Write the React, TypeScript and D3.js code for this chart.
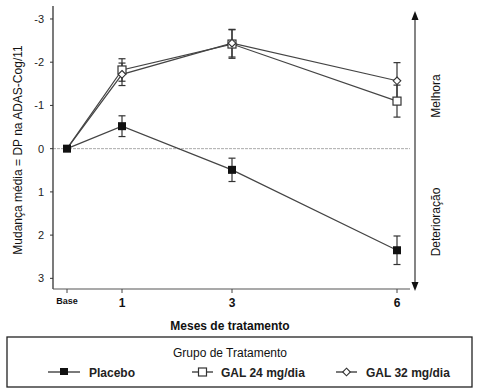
import * as React from 'react';
import * as d3 from 'd3';

const months = [0, 1, 3, 6];
const monthLabels = ['Base', '1', '3', '6'];
const yTicks = [-3, -2, -1, 0, 1, 2, 3];

const placebo = [0, -0.52, 0.49, 2.35];
const placeboErr = [0, 0.24, 0.27, 0.33];
const gal24 = [0, -1.82, -2.42, -1.1];
const gal24Err = [0, 0.26, 0.33, 0.37];
const gal32 = [0, -1.72, -2.44, -1.57];
const gal32Err = [0, 0.26, 0.32, 0.42];

const seriesNames = ['Placebo', 'GAL 24 mg/dia', 'GAL 32 mg/dia'];

const font = 'Liberation Sans, Arial, sans-serif';

export default function App() {
  const x = d3.scaleLinear().domain([0, 6]).range([67, 397]);
  const y = d3.scaleLinear().domain([-3.3, 3.2]).range([6, 287]);
  const line = d3.line<number>().x((_, i) => x(months[i])).y(d => y(d));

  const series = [
    {name: seriesNames[0], vals: placebo, err: placeboErr, marker: 'fsq'},
    {name: seriesNames[1], vals: gal24, err: gal24Err, marker: 'osq'},
    {name: seriesNames[2], vals: gal32, err: gal32Err, marker: 'dia'},
  ];

  const marker = (m: string, cx: number, cy: number, key: string) => {
    if (m === 'fsq') return <rect key={key} x={cx - 4} y={cy - 4} width={8} height={8} fill="#111" />;
    if (m === 'osq') return <rect key={key} x={cx - 4} y={cy - 4} width={8} height={8} fill="#fff" stroke="#333" strokeWidth={1.2} />;
    return <path key={key} d={`M${cx},${cy - 3.8}L${cx + 3.8},${cy}L${cx},${cy + 3.8}L${cx - 3.8},${cy}Z`} fill="#fff" stroke="#333" strokeWidth={1.1} />;
  };

  return (
    <svg width={477} height={391} style={{position: 'absolute', left: 0, top: 0, background: '#fff'}} fontFamily={font}>
      {/* zero reference line */}
      <line x1={53} x2={410} y1={y(0)} y2={y(0)} stroke="#aaa" strokeWidth={1} strokeDasharray="3,1" />
      {/* axes */}
      <line x1={53} x2={53} y1={6} y2={289} stroke="#333" strokeWidth={1.3} />
      <line x1={53} x2={410} y1={289} y2={289} stroke="#555" strokeWidth={1.2} />
      {yTicks.map(t => (
        <g key={t}>
          <line x1={50} x2={53} y1={y(t)} y2={y(t)} stroke="#333" />
          <text x={44} y={y(t) + 4} textAnchor="end" fontSize={11} fill="#222">{t}</text>
        </g>
      ))}
      {months.map((m, i) => (
        <g key={m}>
          <line x1={x(m)} x2={x(m)} y1={289} y2={293} stroke="#444" />
          <text x={x(m)} y={i === 0 ? 304 : 307} textAnchor="middle" fontSize={i === 0 ? 9 : 12} fontWeight="bold" fill="#111">{monthLabels[i]}</text>
        </g>
      ))}
      <text x={230} y={330} textAnchor="middle" fontSize={12} fontWeight="bold" fill="#111">Meses de tratamento</text>
      <text transform="translate(22,150) rotate(-90)" textAnchor="middle" fontSize={12} fill="#111">Mudança média = DP na ADAS-Cog/11</text>

      {/* right arrow axis */}
      <line x1={415} x2={415} y1={16} y2={286} stroke="#333" strokeWidth={1.2} />
      <path d="M415,11L411.5,20L418.5,20Z" fill="#111" />
      <path d="M415,291L411.5,282L418.5,282Z" fill="#111" />
      <text transform="translate(440,96) rotate(-90)" textAnchor="middle" fontSize={12} fill="#111">Melhora</text>
      <text transform="translate(440,222) rotate(-90)" textAnchor="middle" fontSize={12} fill="#111">Deterioração</text>

      {/* series */}
      {series.map(s => (
        <g key={s.name}>
          <path d={line(s.vals) || ''} fill="none" stroke="#444" strokeWidth={1.2} />
          {s.vals.map((v, i) => s.err[i] > 0 ? (
            <g key={i} stroke="#333" strokeWidth={1.2}>
              <line x1={x(months[i])} x2={x(months[i])} y1={y(v - s.err[i])} y2={y(v + s.err[i])} />
              <line x1={x(months[i]) - 3.5} x2={x(months[i]) + 3.5} y1={y(v - s.err[i])} y2={y(v - s.err[i])} />
              <line x1={x(months[i]) - 3.5} x2={x(months[i]) + 3.5} y1={y(v + s.err[i])} y2={y(v + s.err[i])} />
            </g>
          ) : null)}
        </g>
      ))}
      {series.map(s => s.vals.map((v, i) => i === 0 ? null : marker(s.marker, x(months[i]), y(v), s.name + i)))}
      {marker('fsq', x(0), y(0), 'base')}

      {/* legend */}
      <rect x={7} y={337} width={465} height={50} fill="none" stroke="#222" strokeWidth={1.3} />
      <text x={230} y={357} textAnchor="middle" fontSize={12} fill="#111">Grupo de Tratamento</text>
      {[{x0: 48, x1: 80, m: 'fsq', tx: 89}, {x0: 192, x1: 213, m: 'osq', tx: 221}, {x0: 336, x1: 357, m: 'dia', tx: 366}].map((l, i) => (
        <g key={i}>
          <line x1={l.x0} x2={l.x1} y1={372} y2={372} stroke="#222" strokeWidth={1.2} />
          {l.m === 'fsq'
            ? <rect x={(l.x0 + l.x1) / 2 - 4} y={368} width={8} height={7} fill="#111" />
            : marker(l.m, (l.x0 + l.x1) / 2, 372, 'lg' + i)}
          <text x={l.tx} y={377} fontSize={12} fontWeight="bold" fill="#222">{seriesNames[i]}</text>
        </g>
      ))}
    </svg>
  );
}
